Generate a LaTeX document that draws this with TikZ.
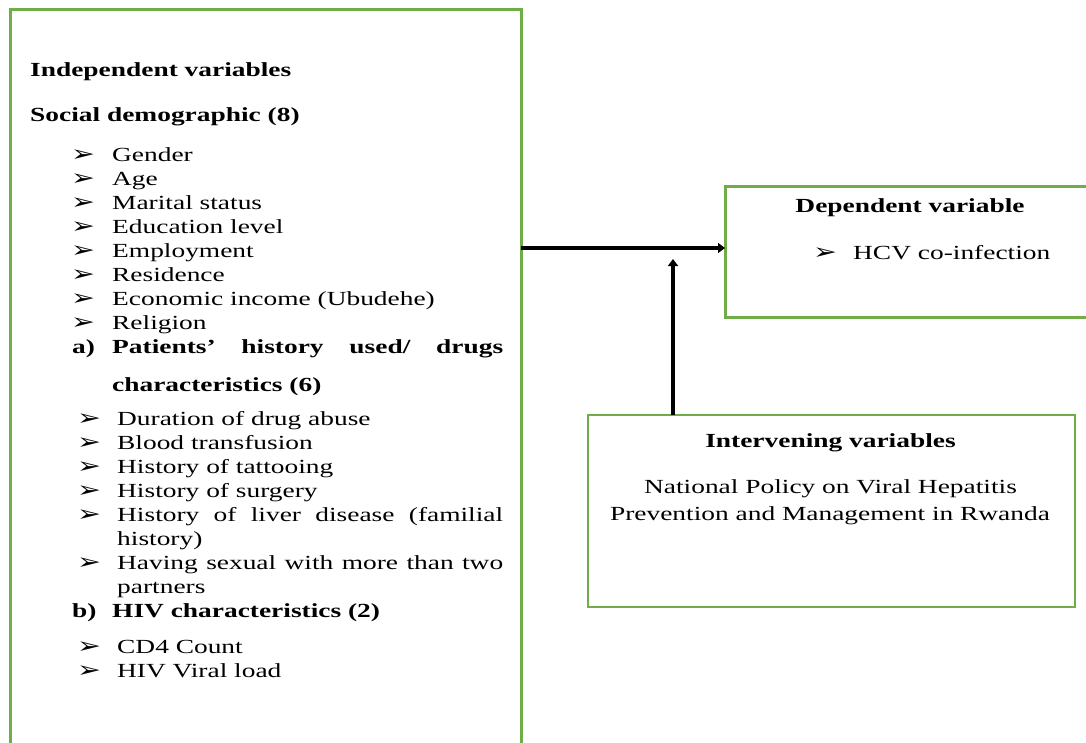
\documentclass[tikz,border=0pt]{standalone}
\usepackage{fontspec}
\setmainfont{Liberation Serif}[FakeStretch=1.37]
\newfontfamily\symfont{DejaVu Sans}[FakeStretch=1.3]
\usetikzlibrary{arrows.meta}
\definecolor{boxgreen}{HTML}{70AD47}
\newcommand\fsz{\fontsize{20}{24}\selectfont}
\tikzset{
  gbox/.style={draw=boxgreen, line width=3pt, inner sep=0pt, outer sep=0pt, anchor=north west},
  gthin/.style={draw=boxgreen, line width=1.5pt, inner sep=0pt, outer sep=0pt, anchor=north west},
  txt/.style={anchor=base west, inner sep=0pt, font=\fsz},
  ctxt/.style={anchor=base, inner sep=0pt, font=\fsz},
  bul/.style={anchor=base west, inner sep=0pt, font=\symfont\fontsize{22}{24}\selectfont},
  arr/.style={line width=4pt, -{Triangle[length=7pt,width=10pt]}}
}
\begin{document}
\begin{tikzpicture}[x=1pt,y=-1pt]
\useasboundingbox (0,0) rectangle (1086,743);
% boxes
\node[gbox, minimum width=511pt, minimum height=760pt] (indep) at (10,10) {};
\node[gbox, minimum width=380pt, minimum height=130pt] (dep) at (725,187) {};
\node[gthin, minimum width=487pt, minimum height=192pt] (interv) at (588,415) {};
% connectors
\coordinate (h) at (0,248);
\draw[arr] (indep.east |- h) -- (dep.west |- h);
\coordinate (vtip) at (673,259);
\draw[arr] (interv.north -| vtip) -- (vtip);
% left box text
\node[txt, font=\fsz\bfseries] (t1) at (30,76.5) {Independent variables};
\node[txt, font=\fsz\bfseries] (t2) at (30,122) {Social demographic (8)};
\foreach \n/\y/\s in {1/161.5/Gender, 2/185.5/Age, 3/209.5/Marital status, 4/233.5/Education level, 5/257.5/Employment, 6/281.5/Residence, 7/305.5/Economic income (Ubudehe), 8/329.5/Religion}{
  \node[bul] (ba\n) at (71,\y) {➢};
  \node[txt] (sa\n) at (112,\y) {\s};
}
\node[txt, font=\fsz\bfseries] (al) at (72,353.5) {a)};
\node[txt, font=\fsz\bfseries] (at1) at (112,353.5) {\makebox[391pt][s]{Patients’ history used/ drugs}};
\node[txt, font=\fsz\bfseries] (at2) at (112,391) {characteristics (6)};
\foreach \n/\y/\s in {1/425/Duration of drug abuse, 2/449/Blood transfusion, 3/473/History of tattooing, 4/497/History of surgery}{
  \node[bul] (bb\n) at (77,\y) {➢};
  \node[txt] (sb\n) at (117,\y) {\s};
}
\node[bul] (bb5) at (77,521) {➢};
\node[txt] (sb5) at (117,521) {\makebox[386pt][s]{History of liver disease (familial}};
\node[txt] (sb5b) at (117,545) {history)};
\node[bul] (bb6) at (77,569) {➢};
\node[txt] (sb6) at (117,569) {\makebox[386pt][s]{Having sexual with more than two}};
\node[txt] (sb6b) at (117,593) {partners};
\node[txt, font=\fsz\bfseries] (bl) at (72,617) {b)};
\node[txt, font=\fsz\bfseries] (bt) at (112,617) {HIV characteristics (2)};
\node[bul] (bc1) at (77,653) {➢};
\node[txt] (sc1) at (117,653) {CD4 Count};
\node[bul] (bc2) at (77,677) {➢};
\node[txt] (sc2) at (117,677) {HIV Viral load};
% dependent
\node[ctxt, font=\fsz\bfseries] (dt) at (910,213) {Dependent variable};
\node[bul] (db) at (813,259) {➢};
\node[txt] (ds) at (853,259) {HCV co-infection};
% intervening
\node[ctxt, font=\fsz\bfseries] (it) at (830.5,447) {Intervening variables};
\node[ctxt] (i1) at (830.5,493) {National Policy on Viral Hepatitis};
\node[ctxt] (i2) at (830,520) {Prevention and Management in Rwanda};
\end{tikzpicture}
\end{document}
